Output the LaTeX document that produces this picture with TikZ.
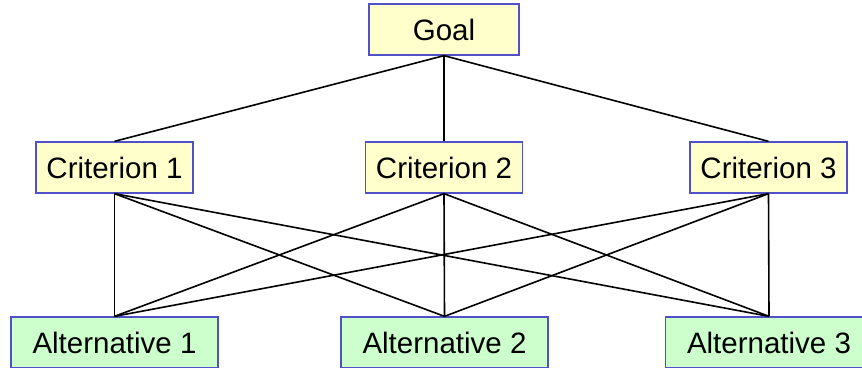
\documentclass[tikz,border=0pt]{standalone}
\usepackage{fontspec}
\setmainfont{Liberation Sans}
\definecolor{boxblue}{RGB}{80,80,200}
\definecolor{critfill}{RGB}{255,255,204}
\definecolor{altfill}{RGB}{204,255,204}
\begin{document}
\begin{tikzpicture}[x=1pt,y=1pt,
  box/.style={draw=boxblue,line width=1.3pt,inner sep=0pt,font=\fontsize{29.5}{34}\selectfont,minimum height=51pt},
  goalbox/.style={box,fill=critfill,minimum width=150pt},
  critbox/.style={box,fill=critfill,minimum width=157pt},
  altbox/.style={box,fill=altfill,minimum width=207pt},
  link/.style={draw=black,line width=1.6pt}]
\useasboundingbox (0,0) rectangle (862,367);
\begin{scope}
\clip (0,0) rectangle (862,367);
\node[goalbox] (g) at (444,337.5) {Goal};
\node[critbox] (c1) at (114.5,199.5) {Criterion 1};
\node[critbox] (c2) at (444,199.5) {Criterion 2};
\node[critbox] (c3) at (768.5,199.5) {Criterion 3};
\node[altbox] (a1) at (114.5,24.5) {Alternative 1};
\node[altbox] (a2) at (444.5,24.5) {Alternative 2};
\node[altbox] (a3) at (769,24.5) {Alternative 3};
\foreach \c in {c1,c2,c3} {\draw[link] (g.south) -- (\c.north);}
\foreach \c in {c1,c2,c3} {\foreach \a in {a1,a2,a3} {\draw[link] (\c.south) -- (\a.north);}}
\end{scope}
\end{tikzpicture}
\end{document}
